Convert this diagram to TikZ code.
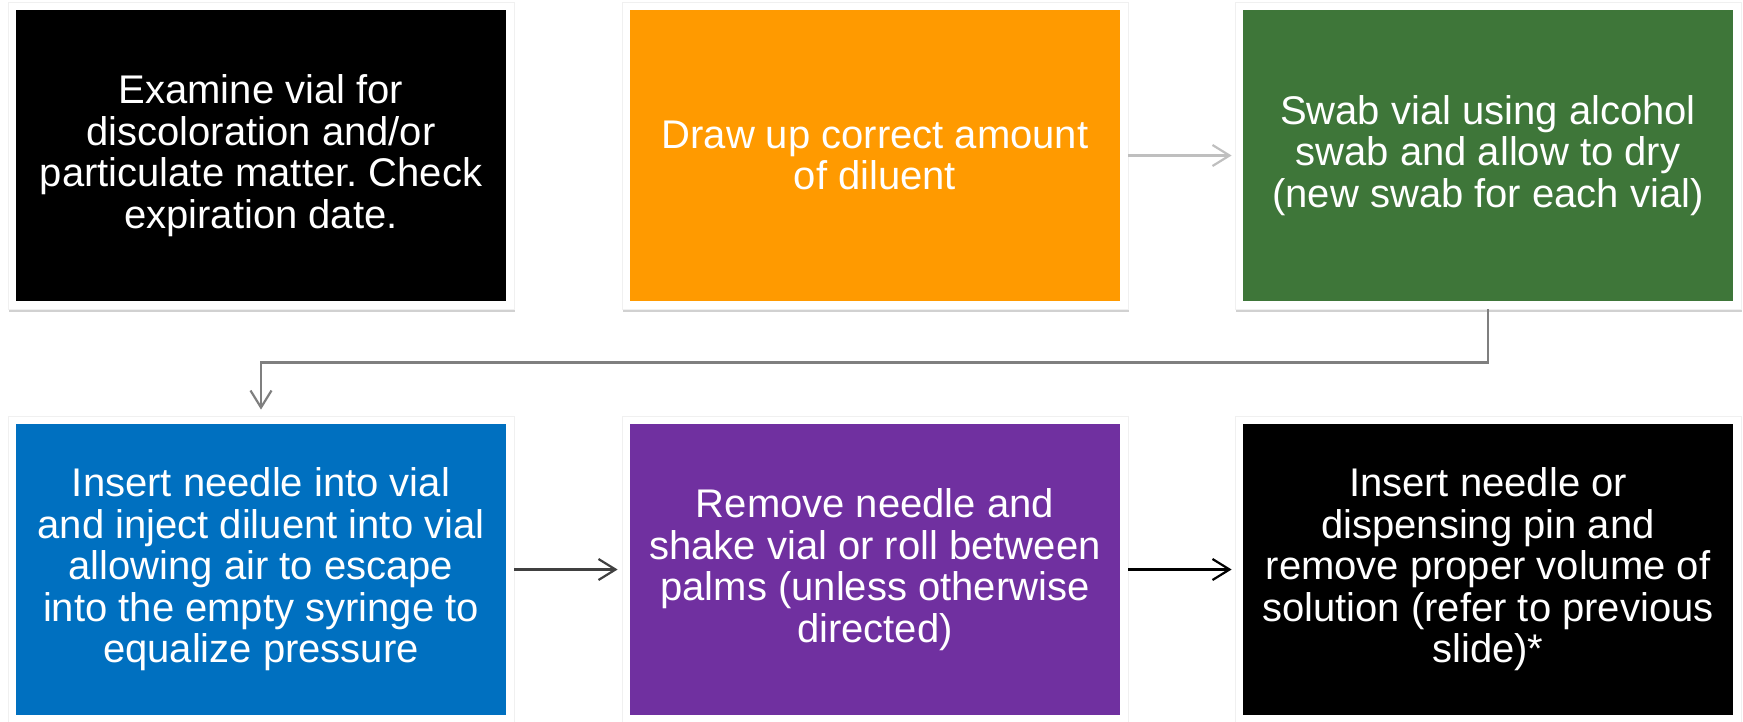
\documentclass[tikz,border=0pt]{standalone}
\usepackage{fontspec}
\setmainfont{Liberation Sans}
\usetikzlibrary{arrows.meta,shadows}
\frenchspacing
\definecolor{cblack}{HTML}{000000}
\definecolor{corange}{HTML}{FF9A00}
\definecolor{cgreen}{HTML}{3E7639}
\definecolor{cblue}{HTML}{0070C0}
\definecolor{cpurple}{HTML}{7030A0}
\definecolor{arrA}{HTML}{BFBFBF}
\definecolor{arrB}{HTML}{7F7F7F}
\definecolor{arrC}{HTML}{404040}
\tikzset{
  frame/.style={rectangle, fill=white, draw=black!6, line width=0.8pt, inner sep=0pt, minimum width=506pt, minimum height=307pt,
    drop shadow={shadow xshift=0.5pt, shadow yshift=-3pt, fill=black, opacity=0.18}},
  stepbox/.style={rectangle, inner sep=0pt, minimum width=490pt, minimum height=291pt,
    text=white, align=center, font=\fontsize{40}{41.5}\selectfont\frenchspacing},
  conn/.style={line width=2.2pt, -{Straight Barb[length=17pt,width=21pt,line width=2.2pt]}}
}
\begin{document}
\begin{tikzpicture}[x=1pt,y=-1pt]
\useasboundingbox (0,0) rectangle (1743,721);
% frames
\node[frame] (f1) at (261,155.5) {};
\node[frame] (f2) at (875,155.5) {};
\node[frame] (f3) at (1488,155.5) {};
\node[frame] (f4) at (261,569.5) {};
\node[frame] (f5) at (875,569.5) {};
\node[frame] (f6) at (1488,569.5) {};
% boxes
\node[stepbox, fill=cblack] (b1) at (f1) {Examine vial for\\discoloration and/or\\particulate matter. Check\\expiration date.};
\node[stepbox, fill=corange] (b2) at (f2) {Draw up correct amount\\of diluent};
\node[stepbox, fill=cgreen] (b3) at (f3) {Swab vial using alcohol\\swab and allow to dry\\(new swab for each vial)};
\node[stepbox, fill=cblue] (b4) at (f4) {Insert needle into vial\\and inject diluent into vial\\allowing air to escape\\into the empty syringe to\\equalize pressure};
\node[stepbox, fill=cpurple] (b5) at (f5) {Remove needle and\\shake vial or roll between\\palms (unless otherwise\\directed)};
\node[stepbox, fill=cblack] (b6) at (f6) {Insert needle or\\dispensing pin and\\remove proper volume of\\solution (refer to previous\\slide)*};
% connectors
\draw[conn, draw=arrA, shorten >=3pt] (f2.east) -- (f3.west);
\draw[conn, draw=arrB, shorten >=6pt] (f3.south) -- ++(0,53) -| (f4.north);
\draw[conn, draw=arrC, shorten >=4pt] (f4.east) -- (f5.west);
\draw[conn, draw=black, shorten >=3pt] (f5.east) -- (f6.west);
\end{tikzpicture}
\end{document}
